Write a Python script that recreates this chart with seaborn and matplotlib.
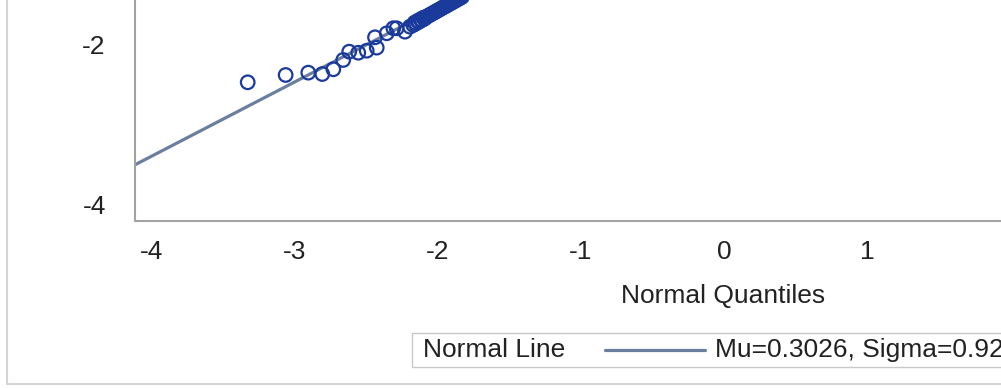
import numpy as np
import pandas as pd
import seaborn as sns
import matplotlib.pyplot as plt
from matplotlib.lines import Line2D
from matplotlib.patches import Rectangle

# normal reference line parameters
MU = 0.3026
SIGMA = 0.9245

# lower tail of the Q-Q plot (normal quantile, ordered value)
quantiles = [-3.326, -3.061, -2.903, -2.805, -2.728, -2.659, -2.617, -2.554,
             -2.495, -2.437, -2.425, -2.355, -2.309, -2.286, -2.228, -2.193,
             -2.17, -2.16, -2.15, -2.14, -2.13, -2.12, -2.11, -2.10, -2.09,
             -2.08, -2.07, -2.06, -2.05, -2.04, -2.03, -2.02, -2.01, -2.00,
             -1.99, -1.98, -1.97, -1.96, -1.95, -1.94, -1.93, -1.92, -1.91,
             -1.90, -1.89, -1.88, -1.87, -1.86, -1.85, -1.84, -1.83]
values = [-2.473, -2.382, -2.353, -2.370, -2.311, -2.195, -2.092, -2.105,
          -2.080, -1.913, -2.042, -1.863, -1.800, -1.801, -1.843, -1.781,
          -1.76, -1.73, -1.74, -1.71, -1.72, -1.69, -1.70, -1.67, -1.68,
          -1.66, -1.65, -1.64, -1.63, -1.62, -1.61, -1.60, -1.59, -1.58,
          -1.57, -1.56, -1.55, -1.54, -1.53, -1.52, -1.51, -1.50, -1.49,
          -1.48, -1.47, -1.46, -1.45, -1.44, -1.43, -1.42, -1.41]

x_ticks = [-4, -3, -2, -1, 0, 1]
y_ticks = [-4, -2]

MARKER = "#1a3a9c"
LINE = "#6a7fa0"
AXIS = "#a3a3a3"
BORDER = "#d4d4d4"
TEXT = "#222222"
FS = 19

sns.set_style("white")
plt.rcParams["font.family"] = ["Liberation Sans", "DejaVu Sans"]
plt.rcParams["axes.unicode_minus"] = False

W, H = 1001, 388
fig = plt.figure(figsize=(W / 100, H / 100), dpi=100)

# axes box in pixels: left 135, bottom 220.5 (from top); extends past the crop
ax = fig.add_axes([135 / W, (H - 220.5) / H, 1000 / W, 260.5 / H])

ax.axline((0, MU), slope=SIGMA, color=LINE, lw=2.3, zorder=2)

df = pd.DataFrame({"q": quantiles, "v": values})
sns.scatterplot(data=df, x="q", y="v", ax=ax, marker="o", s=95,
                facecolors="none", edgecolors=MARKER, linewidths=1.6,
                zorder=3, legend=False)

ax.set_xlim(-4.113, 2.870)
ax.set_ylim(-4.193, -0.951)
ax.set_xticks(x_ticks)
ax.set_yticks(y_ticks)
ax.set_xlabel("")
ax.set_ylabel("")
for side in ["top", "right"]:
    ax.spines[side].set_visible(False)
for side in ["left", "bottom"]:
    ax.spines[side].set_color(AXIS)
    ax.spines[side].set_linewidth(1.5)
ax.tick_params(axis="both", length=9, width=1.5, color=AXIS, labelsize=FS,
               labelcolor=TEXT, pad=5)
ax.tick_params(axis="y", pad=12)

fig.text(723 / W, 1 - 296 / H, "Normal Quantiles", ha="center", va="center",
         fontsize=FS, color=TEXT)

# legend box (SAS style, title on the left)
fig.add_artist(Rectangle((412 / W, 1 - 367 / H), 0.7, 34 / H,
                         transform=fig.transFigure, facecolor="white",
                         edgecolor="#c8c8c8", lw=1))
fig.text(423 / W, 1 - 350 / H, "Normal Line", ha="left", va="center",
         fontsize=FS, color=TEXT)
fig.add_artist(Line2D([605 / W, 705 / W], [1 - 350 / H, 1 - 350 / H],
                      transform=fig.transFigure, color=LINE, lw=2.3))
fig.text(715 / W, 1 - 350 / H, f"Mu={MU:.4f}, Sigma={SIGMA:.4f}", ha="left",
         va="center", fontsize=FS, color=TEXT)

# outer border of the graph
fig.add_artist(Line2D([7 / W, 7 / W], [1 - 384 / H, 1.0],
                      transform=fig.transFigure, color=BORDER, lw=1.5))
fig.add_artist(Line2D([7 / W, 1.0], [1 - 384 / H, 1 - 384 / H],
                      transform=fig.transFigure, color=BORDER, lw=1.5))

fig.savefig("out.png", dpi=100)
